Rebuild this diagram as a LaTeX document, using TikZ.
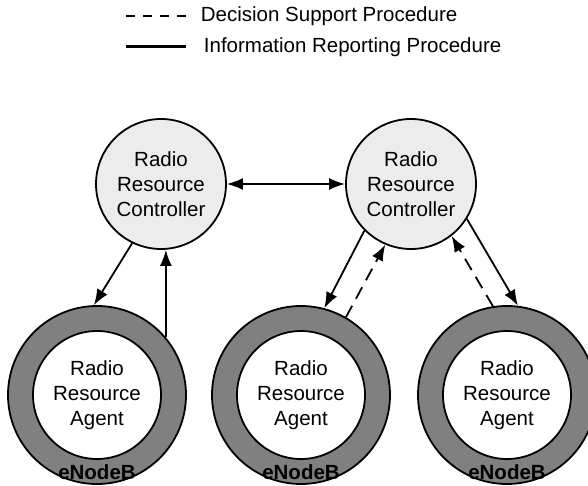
\documentclass[tikz,border=0pt]{standalone}
\usepackage{fontspec}
\setmainfont{Liberation Sans}
\usetikzlibrary{arrows.meta}

\definecolor{ctrlfill}{RGB}{236,236,236}
\definecolor{ringfill}{RGB}{128,128,128}

\tikzset{every picture/.style={line width=1.8pt},
  txt/.style={font=\fontsize{20.5}{25}\selectfont},
  ctrl/.style={circle,draw,fill=ctrlfill,minimum size=130pt,inner sep=0pt,align=center,txt},
  ring/.style={circle,draw,fill=ringfill,minimum size=178pt,inner sep=0pt},
  agent/.style={circle,draw,fill=white,minimum size=128pt,inner sep=0pt,align=center,txt},
  enb/.style={inner sep=0pt,font=\fontsize{20.5}{24}\selectfont\bfseries},
  msg/.style={-{Latex[length=16pt,width=12pt]}},
  dsp/.style={msg,dash pattern=on 13pt off 8pt},
  both/.style={{Latex[length=16pt,width=12pt]}-{Latex[length=16pt,width=12pt]}}
}

\begin{document}
\begin{tikzpicture}[x=1pt,y=1pt,yscale=-1,xscale=1]
\useasboundingbox (0,0) rectangle (588,486);

%Legend
\coordinate (dl) at (126,16);
\coordinate (dr) at (186,16);
\draw [dash pattern=on 9pt off 8pt] (dl) -- (dr) ;
\node [anchor=west,inner sep=0pt,txt] (dtxt) at (200,16) {Decision Support Procedure};
\coordinate (sl) at (126,47);
\coordinate (sr) at (186,47);
\draw [line width=3pt] (sl) -- (sr) ;
\node [anchor=west,inner sep=0pt,txt] (stxt) at (203,47) {Information Reporting Procedure};

%Controllers
\node [ctrl] (rrc1) at (161,184) {Radio\\Resource\\Controller};
\node [ctrl] (rrc2) at (411,184) {Radio\\Resource\\Controller};

%eNodeB rings with the agents inside
\node [ring] (enb1) at (97,395) {};
\node [agent] (rra1) at (97,395) {Radio\\Resource\\Agent};
\node [enb] (lbl1) at (97,472) {eNodeB};

\node [ring] (enb2) at (301,395) {};
\node [agent] (rra2) at (301,395) {Radio\\Resource\\Agent};
\node [enb] (lbl2) at (301,472) {eNodeB};

\node [ring] (enb3) at (507,395) {};
\node [agent] (rra3) at (507,395) {Radio\\Resource\\Agent};
\node [enb] (lbl3) at (507,472) {eNodeB};

%Arrows
\draw [both] (rrc1.east) -- (rrc2.west) ;
\draw [msg] (rrc1.244) -- (enb1.92) ;
\draw [msg] (enb1.40) -- (enb1.40 |- rrc1.south) ;
\draw [msg] (rrc2.225) -- (enb2.75) ;
\draw [dsp] (enb2.60) -- (rrc2.247) ;
\draw [msg] (rrc2.328) -- (enb3.83) ;
\draw [dsp] (enb3.99) -- (rrc2.308) ;

\end{tikzpicture}
\end{document}
